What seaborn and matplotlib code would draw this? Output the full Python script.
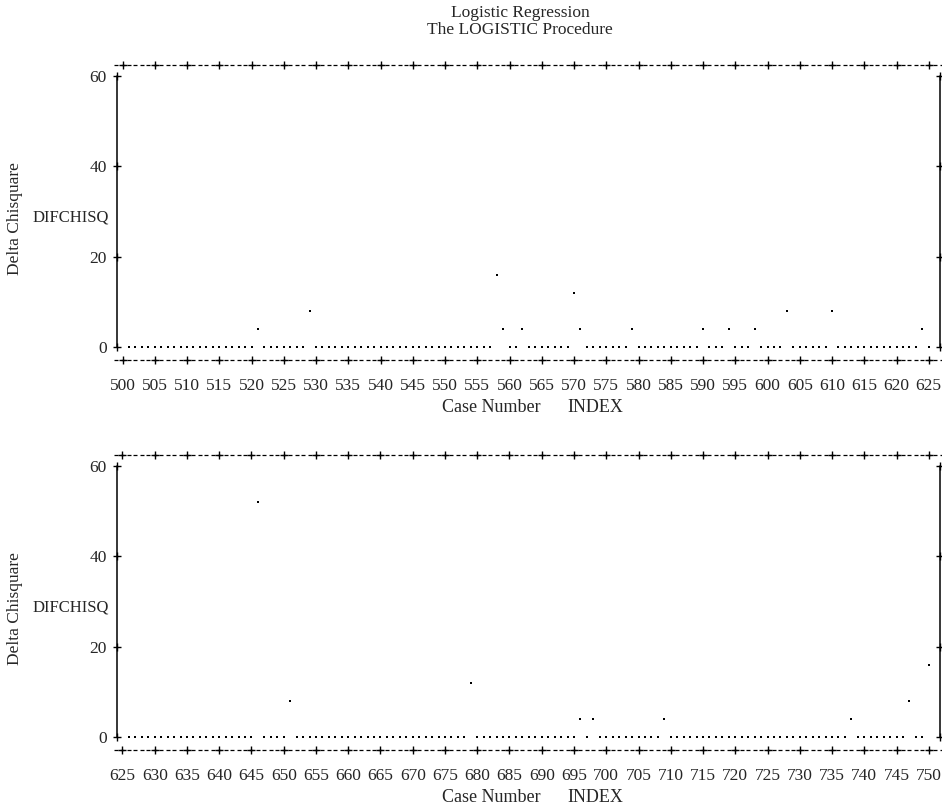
import numpy as np
import pandas as pd
import seaborn as sns
import matplotlib.pyplot as plt

# Delta chi-square by case number (line-printer plot, two pages)
case_top = list(range(501, 626))
chisq_top = [0, 0, 0, 0, 0, 0, 0, 0, 0, 0, 0, 0, 0, 0, 0, 0, 0, 0, 0, 0, 4, 0, 0, 0, 0,
             0, 0, 0, 8, 0, 0, 0, 0, 0, 0, 0, 0, 0, 0, 0, 0, 0, 0, 0, 0, 0, 0, 0, 0, 0,
             0, 0, 0, 0, 0, 0, 0, 16, 4, 0, 0, 4, 0, 0, 0, 0, 0, 0, 0, 12, 4, 0, 0, 0, 0,
             0, 0, 0, 4, 0, 0, 0, 0, 0, 0, 0, 0, 0, 0, 4, 0, 0, 0, 4, 0, 0, 0, 4, 0, 0,
             0, 0, 8, 0, 0, 0, 0, 0, 0, 8, 0, 0, 0, 0, 0, 0, 0, 0, 0, 0, 0, 0, 0, 4, 0]

case_bot = list(range(626, 751))
chisq_bot = [0, 0, 0, 0, 0, 0, 0, 0, 0, 0, 0, 0, 0, 0, 0, 0, 0, 0, 0, 0, 52, 0, 0, 0, 0,
             8, 0, 0, 0, 0, 0, 0, 0, 0, 0, 0, 0, 0, 0, 0, 0, 0, 0, 0, 0, 0, 0, 0, 0, 0,
             0, 0, 0, 12, 0, 0, 0, 0, 0, 0, 0, 0, 0, 0, 0, 0, 0, 0, 0, 0, 4, 0, 4, 0, 0,
             0, 0, 0, 0, 0, 0, 0, 0, 4, 0, 0, 0, 0, 0, 0, 0, 0, 0, 0, 0, 0, 0, 0, 0, 0,
             0, 0, 0, 0, 0, 0, 0, 0, 0, 0, 0, 0, 4, 0, 0, 0, 0, 0, 0, 0, 0, 8, 0, 0, 16]

y_ticks = [0, 20, 40, 60]
page_starts = [500, 625]

sns.set_style('white')
plt.rcParams['font.family'] = ['Liberation Serif', 'DejaVu Serif']

W, H = 942, 806
fig = plt.figure(figsize=(W / 100, H / 100), dpi=100)

px_per_unit = 6.45
ypx_per_unit = 4.52


def draw_page(df, start, top_px):
    # axes box in pixels: top dashed line at top_px, bottom dashed line 297 px lower
    left_px, right_px = 115, 942
    bot_px = top_px + 297
    ax = fig.add_axes([left_px / W, 1 - bot_px / H, (right_px - left_px) / W, (bot_px - top_px) / H])
    x0 = start + (left_px - 122.5) / px_per_unit
    x1 = start + (right_px - 122.5) / px_per_unit
    zero_px = top_px + 283
    y0 = -(bot_px - zero_px) / ypx_per_unit
    y1 = (zero_px - top_px) / ypx_per_unit
    ax.set_xlim(x0, x1)
    ax.set_ylim(y0, y1)

    sns.scatterplot(data=df, x='INDEX', y='DIFCHISQ', ax=ax, marker='s', s=3.5,
                    color='black', linewidth=0, legend=False)

    # line-printer frame: dashed top/bottom with '+' at ticks
    ticks = np.arange(start, start + 126, 5)
    dash_x = np.arange(start - 1, start + 128)
    for yy in (y0 + 0.3, y1 - 0.3):
        ax.plot(dash_x, np.full(len(dash_x), yy), ls='none', marker='_', ms=2.4,
                mew=0.9, color='black', clip_on=False)
        ax.plot(ticks, np.full(len(ticks), yy), ls='none', marker='+', ms=6,
                mew=1.0, color='black', clip_on=False)

    # vertical axes left and right
    for xa in (start - 0.86, start + 126.7):
        ax.plot([xa, xa], [0, 60], color='black', lw=1.1, clip_on=False)
        ax.plot([xa] * len(y_ticks), y_ticks, ls='none', marker='+', ms=6, mew=1.0,
                color='black', clip_on=False)

    ax.set_xticks(ticks)
    ax.set_xticklabels([str(t) for t in ticks])
    ax.set_yticks(y_ticks)
    ax.tick_params(axis='x', length=0, pad=12, labelsize=12.5)
    ax.tick_params(axis='y', length=0, pad=6, labelsize=12.5)
    ax.set_xlabel('')
    ax.set_ylabel('')
    for s in ax.spines.values():
        s.set_visible(False)
    ax.patch.set_alpha(0)

    # labels
    fig.text(15 / W, 1 - (zero_px - 128) / H, 'Delta Chisquare', rotation=90,
             ha='center', va='center', fontsize=12.5)
    fig.text(33 / W, 1 - (zero_px - 130) / H, 'DIFCHISQ', ha='left', va='center', fontsize=12)
    fig.text(442 / W, 1 - (zero_px + 61) / H, 'Case Number', ha='left', va='center', fontsize=13)
    fig.text(567 / W, 1 - (zero_px + 61) / H, 'INDEX', ha='left', va='center', fontsize=13)
    return ax


df_top = pd.DataFrame({'INDEX': case_top, 'DIFCHISQ': chisq_top})
df_bot = pd.DataFrame({'INDEX': case_bot, 'DIFCHISQ': chisq_bot})

draw_page(df_top, page_starts[0], 64)
draw_page(df_bot, page_starts[1], 454)

fig.text(520 / W, 1 - 13 / H, 'Logistic Regression', ha='center', va='center', fontsize=12.5)
fig.text(520 / W, 1 - 30 / H, 'The LOGISTIC Procedure', ha='center', va='center', fontsize=12.5)

fig.savefig('out.png', dpi=100)
